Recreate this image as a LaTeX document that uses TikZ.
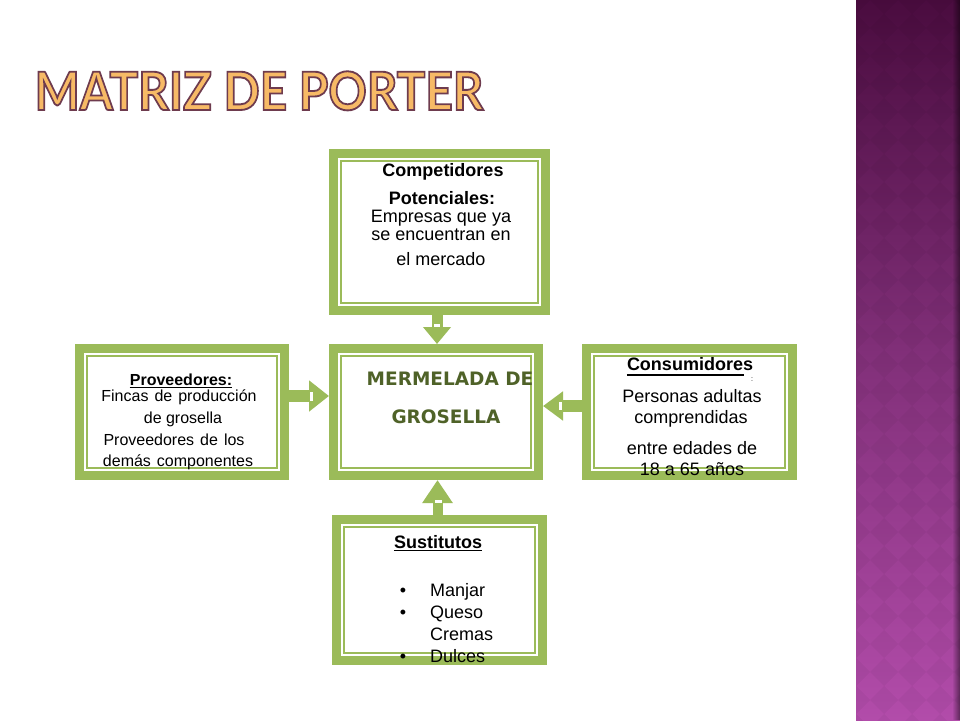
\documentclass[tikz,border=0pt]{standalone}
\usepackage{fontspec}
\setmainfont{Liberation Sans}
\newfontfamily\titlefont{Lato}[UprightFont=* Bold, FakeBold=3.5]
\newfontfamily\verdana{DejaVu Sans}
\usetikzlibrary{arrows.meta}
\definecolor{pgreen}{HTML}{9BBB59}
\definecolor{dgreen}{HTML}{4F6228}
\definecolor{tfill}{HTML}{F7BA66}
\definecolor{tline}{HTML}{6E3B4E}
\definecolor{bandtop}{HTML}{4A0C3F}
\definecolor{bandmid}{HTML}{82307A}
\definecolor{bandbot}{HTML}{B24CAA}
\newcommand\wsp{\hspace{6pt}}
\newcommand\strokecol{\special{pdf:code 0.431 0.231 0.306 RG}}
\tikzset{
  portbox/.style={draw=pgreen, line width=9pt, fill=white, inner sep=0pt, outer sep=0pt},
  innerframe/.style={draw=pgreen, line width=2pt},
  blockarrow/.style={draw=pgreen, shorten >=4.5pt},
  txt/.style={anchor=base, inner sep=0pt, font=\fontsize{18}{20}\selectfont},
  btxt/.style={anchor=base, inner sep=0pt, font=\fontsize{18}{20}\selectfont\bfseries},
  stxt/.style={anchor=base, inner sep=0pt, font=\fontsize{16}{18}\selectfont},
  ctxt/.style={anchor=base, inner sep=0pt, text=dgreen, font=\verdana\fontsize{18.5}{20}\selectfont\bfseries},
  titlestyle/.style={anchor=base, inner sep=0pt, font=\titlefont\fontsize{53}{60}\selectfont},
  uline/.style={line width=1.3pt, black}
}
\begin{document}
\begin{tikzpicture}[x=1pt,y=-1pt]
\useasboundingbox (0,0) rectangle (960,720);
\fill[white] (0,0) rectangle (960,720);

% right decorative band
\shade[top color=bandtop, bottom color=bandbot, middle color=bandmid] (856,0) rectangle (960,720);
\begin{scope}
  \clip (856,0) rectangle (960,720);
  \foreach \i in {0,...,4}
    \foreach \j in {0,...,26}
      \fill[black, opacity=0.035] (856+28*\i,28*\j-14) -- (870+28*\i,28*\j) -- (856+28*\i,28*\j+14) -- (842+28*\i,28*\j) -- cycle;
  \foreach \k in {0,...,7}
    \fill[black, opacity=0.06*\k] (952+\k,0) rectangle (953+\k,720);
\end{scope}

% title
\node[titlestyle] (title) at (259,110) {\color{tfill}\strokecol\scalebox{0.9}[1]{MATRIZ DE PORTER}};

% boxes
\node[portbox, minimum width=212pt, minimum height=157pt] (top) at (439.5,232) {};
\node[portbox, minimum width=205pt, minimum height=127pt] (center) at (436,412) {};
\node[portbox, minimum width=205pt, minimum height=127pt] (left) at (182,412) {};
\node[portbox, minimum width=206pt, minimum height=127pt] (right) at (689.5,412) {};
\node[portbox, minimum width=206pt, minimum height=141pt] (bottom) at (439.5,590) {};
\foreach \n in {top,center,left,right,bottom}
  \draw[innerframe] ([xshift=7.5pt,yshift=-7.5pt]\n.north west) rectangle ([xshift=-7.5pt,yshift=7.5pt]\n.south east);

% arrows
\coordinate (cn) at ([xshift=1pt]center.north);
\coordinate (cs) at ([xshift=1.5pt]center.south);
\coordinate (cw) at ([yshift=16pt]center.west);
\coordinate (ce) at ([yshift=6pt]center.east);
\draw[blockarrow, line width=11pt, -{Triangle[width=27pt,length=17pt]}] (cn |- top.south) -- (cn);
\draw[blockarrow, line width=10pt, -{Triangle[width=29pt,length=23pt]}] (cs |- bottom.north) -- (cs);
\draw[blockarrow, line width=12pt, -{Triangle[width=30pt,length=20pt]}] (cw -| left.east) -- (cw);
\draw[blockarrow, line width=12pt, -{Triangle[width=28pt,length=20pt]}] (ce -| right.west) -- (ce);
\fill[white] (434,324) rectangle (440,327);
\fill[white] (435,500) rectangle (442,503);
\fill[white] (310,392) rectangle (312.5,401);
\fill[white] (559,402) rectangle (562,410);

% top box text
\node[btxt] (c1) at (443,176) {Competidores};
\node[btxt] (c2) at (442,204) {Potenciales:};
\node[txt] (c3) at (441,222) {Empresas que ya};
\node[txt] (c4) at (441,240) {se encuentran en};
\node[txt] (c5) at (441,265) {el mercado};

% center text
\node[ctxt] (m1) at (450,385) {MERMELADA DE};
\node[ctxt] (m2) at (446,423) {GROSELLA};

% left box text
\node[stxt, font=\fontsize{16}{18}\selectfont\bfseries] (p1) at (181,385) {Proveedores:};
\draw[uline] ([yshift=-2.5pt]p1.base west) -- ([yshift=-2.5pt]p1.base east);
\node[stxt] (p2) at (179,401) {Fincas\wsp de\wsp producción};
\node[stxt] (p3) at (183,423) {de grosella};
\node[stxt] (p4) at (174,445) {Proveedores\wsp de\wsp los};
\node[stxt] (p5) at (178,466) {demás\wsp componentes};

% right box text
\node[btxt] (r1) at (690,370) {Consumidores};
\draw[uline] (r1.base west |- 0,375) -- ([xshift=-9pt]r1.base east |- 0,375);
\node[anchor=base, inner sep=0pt, font=\fontsize{7}{8}\selectfont] (r1c) at (752,381) {:};
\node[txt] (r2) at (692,402) {Personas adultas};
\node[txt] (r3) at (691,423) {comprendidas};
\node[txt] (r4) at (692,454) {entre edades de};
\node[txt] (r5) at (692,475) {18 a 65 años};

% bottom box text
\node[btxt] (s1) at (438,548) {Sustitutos};
\draw[uline] ([yshift=-2.5pt]s1.base west) -- ([yshift=-2.5pt]s1.base east);
\node[txt] (b1) at (403,596) {•};
\node[txt] (b2) at (403,618) {•};
\node[txt] (b4) at (403,662) {•};
\node[txt, anchor=base west] (s2) at (430,596) {Manjar};
\node[txt, anchor=base west] (s3) at (430,618) {Queso};
\node[txt, anchor=base west] (s4) at (430,640) {Cremas};
\node[txt, anchor=base west] (s5) at (430,662) {Dulces};
\end{tikzpicture}
\end{document}
